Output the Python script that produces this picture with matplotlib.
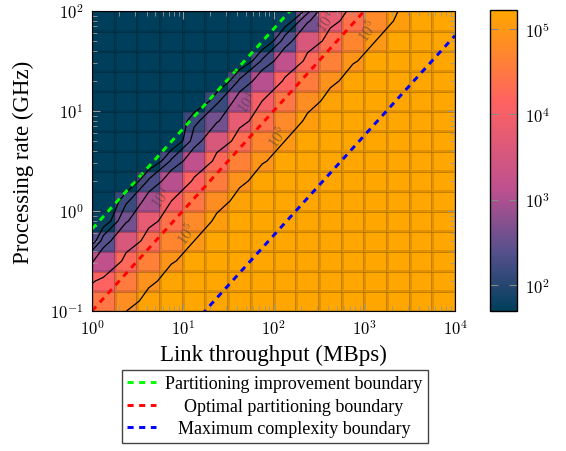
import numpy as np
import matplotlib
matplotlib.use("Agg")
import matplotlib.pyplot as plt
from matplotlib.colors import LinearSegmentedColormap, LogNorm
from matplotlib.ticker import LogLocator, FuncFormatter, NullFormatter, NullLocator

plt.rcParams["font.family"] = "serif"
plt.rcParams["font.serif"] = ["Liberation Serif", "DejaVu Serif"]
plt.rcParams["mathtext.fontset"] = "cm"

# cell grid: link throughput (MBps) and processing rate (GHz)
throughput_edges = np.logspace(0, 4, 17)
rate_edges = np.logspace(-1, 2, 16)

# cell values, top row = 100 GHz, bottom row = 0.1 GHz
values_top_down = [
    [50, 50, 50, 50, 50, 50, 50, 50, 60, 400, 6000, 25000, 60000, 120000, 170000, 170000],
    [50, 50, 50, 50, 50, 50, 50, 50, 250, 3500, 21000, 50000, 100000, 170000, 170000, 170000],
    [50, 50, 50, 50, 50, 50, 50, 200, 1500, 18000, 42000, 90000, 170000, 170000, 170000, 170000],
    [50, 50, 50, 50, 50, 50, 200, 1200, 14000, 35000, 80000, 160000, 170000, 170000, 170000, 170000],
    [50, 50, 50, 50, 50, 150, 900, 10000, 30000, 70000, 140000, 170000, 170000, 170000, 170000, 170000],
    [50, 50, 50, 50, 150, 400, 6000, 25000, 60000, 120000, 170000, 170000, 170000, 170000, 170000, 170000],
    [50, 50, 50, 50, 250, 3500, 21000, 50000, 100000, 170000, 170000, 170000, 170000, 170000, 170000, 170000],
    [50, 50, 50, 200, 1500, 18000, 42000, 90000, 170000, 170000, 170000, 170000, 170000, 170000, 170000, 170000],
    [50, 50, 200, 1200, 14000, 35000, 80000, 160000, 170000, 170000, 170000, 170000, 170000, 170000, 170000, 170000],
    [50, 150, 900, 10000, 30000, 70000, 140000, 170000, 170000, 170000, 170000, 170000, 170000, 170000, 170000, 170000],
    [60, 400, 6000, 25000, 60000, 120000, 170000, 170000, 170000, 170000, 170000, 170000, 170000, 170000, 170000, 170000],
    [250, 3500, 21000, 50000, 100000, 170000, 170000, 170000, 170000, 170000, 170000, 170000, 170000, 170000, 170000, 170000],
    [1500, 18000, 42000, 90000, 170000, 170000, 170000, 170000, 170000, 170000, 170000, 170000, 170000, 170000, 170000, 170000],
    [14000, 35000, 80000, 160000, 170000, 170000, 170000, 170000, 170000, 170000, 170000, 170000, 170000, 170000, 170000, 170000],
    [30000, 70000, 140000, 170000, 170000, 170000, 170000, 170000, 170000, 170000, 170000, 170000, 170000, 170000, 170000, 170000],
]

contour_levels = [100, 180, 500, 1e4, 1e5]

# contour label texts and where they sit (throughput, rate)
label_texts = ["$10^3$", "$10^3$", "$10^4$", "$10^4$", "$10^4$", "$10^5$", "$10^5$", "$10^5$"]
label_x = [3.65, 39.6, 5.9, 52.4, 389, 11.1, 112, 1100]
label_y = [2.19, 23.4, 1.38, 12.3, 79.4, 0.60, 5.6, 64.6]

# boundaries: rate = ratio * throughput
boundary_names = ["Partitioning improvement boundary", "Optimal partitioning boundary",
                  "Maximum complexity boundary"]
boundary_ratio = [0.66, 0.1, 1 / 176]
boundary_colors = ["#00ff00", "#ff0000", "#0000ff"]

Z = np.flipud(np.array(values_top_down, dtype=float))

cmap = LinearSegmentedColormap.from_list(
    "pal", [(0, "#003f5c"), (0.2, "#58508d"), (0.4, "#bc5090"), (0.7, "#ff6361"), (1, "#ffa600")])
norm = LogNorm(vmin=50, vmax=1.66e5)

fig = plt.figure(figsize=(5.66, 4.52), dpi=100)
ax = fig.add_axes([92 / 566, 1 - 312 / 452, 363 / 566, 300 / 452])

mesh = ax.pcolormesh(throughput_edges, rate_edges, Z, cmap=cmap, norm=norm,
                     edgecolors=(0, 0, 0, 0.12), linewidth=0.9)

# contour on log values; grid widened to the axes edges so lines reach the frame
lx_c = np.log10(np.sqrt(throughput_edges[:-1] * throughput_edges[1:]))
ly_c = np.log10(np.sqrt(rate_edges[:-1] * rate_edges[1:]))
LZ = np.log10(Z)
LZ = np.vstack([1.5 * LZ[0] - 0.5 * LZ[1], LZ, 1.5 * LZ[-1] - 0.5 * LZ[-2]])
LZ = np.column_stack([1.5 * LZ[:, 0] - 0.5 * LZ[:, 1], LZ, 1.5 * LZ[:, -1] - 0.5 * LZ[:, -2]])
gx = 10 ** np.concatenate([[0], lx_c, [4]])
gy = 10 ** np.concatenate([[-1], ly_c, [2]])
ax.contour(gx, gy, LZ, levels=np.log10(contour_levels), colors="k", linewidths=0.9)

for t, lx, ly in zip(label_texts, label_x, label_y):
    ax.text(lx, ly, t, rotation=55, ha="center", va="center", fontsize=11,
            color="#3a3a3a", alpha=0.55)

xl = np.array([1, 1e4])
for name, ratio, col in zip(boundary_names, boundary_ratio, boundary_colors):
    ax.plot(xl, ratio * xl, color=col, lw=2.1, linestyle=(0, (2.1, 1.9)), label=name)

ax.set_xscale("log")
ax.set_yscale("log")
ax.set_xlim(1, 1e4)
ax.set_ylim(0.1, 100)

fmt = FuncFormatter(lambda v, p: r"$10^{%d}$" % round(np.log10(v)))
for axis in (ax.xaxis, ax.yaxis):
    axis.set_major_locator(LogLocator(base=10, numticks=10))
    axis.set_minor_locator(LogLocator(base=10, subs=np.arange(2, 10), numticks=20))
    axis.set_major_formatter(fmt)
    axis.set_minor_formatter(NullFormatter())
ax.tick_params(which="both", direction="in", top=True, right=True, color="#999999", labelsize=12)
ax.tick_params(which="major", length=6, pad=6)
ax.tick_params(which="minor", length=3.5)

ax.set_xlabel("Link throughput (MBps)", fontsize=16.5, labelpad=4)
ax.set_ylabel("Processing rate (GHz)", fontsize=16.5, labelpad=12)

cax = fig.add_axes([490 / 566, 1 - 312 / 452, 27 / 566, 301 / 452])
cb = fig.colorbar(mesh, cax=cax)
cb.set_ticks([1e2, 1e3, 1e4, 1e5])
cb.ax.yaxis.set_minor_locator(NullLocator())
cb.ax.yaxis.set_major_formatter(fmt)
cb.ax.tick_params(direction="in", left=True, right=True, color="#888888", length=6,
                  labelsize=12, pad=6)
cb.outline.set_linewidth(1.0)

leg = ax.legend(loc="upper center", bbox_to_anchor=(275 / 566, 1 - 371 / 452),
                bbox_transform=fig.transFigure, fontsize=13, frameon=True, fancybox=False,
                edgecolor="#444444", framealpha=1, handlelength=1.6, handletextpad=0.5,
                labelspacing=0.3, borderpad=0.3, borderaxespad=0)
leg.get_frame().set_linewidth(1.0)

# centre the legend texts like the original
fig.canvas.draw()
renderer = fig.canvas.get_renderer()
texts = leg.get_texts()
widths = [t.get_window_extent(renderer).width for t in texts]
wmax = max(widths)
for t, w in zip(texts, widths):
    t.set_position(((wmax - w) / 2, 0))

fig.savefig("out.png", dpi=100)
